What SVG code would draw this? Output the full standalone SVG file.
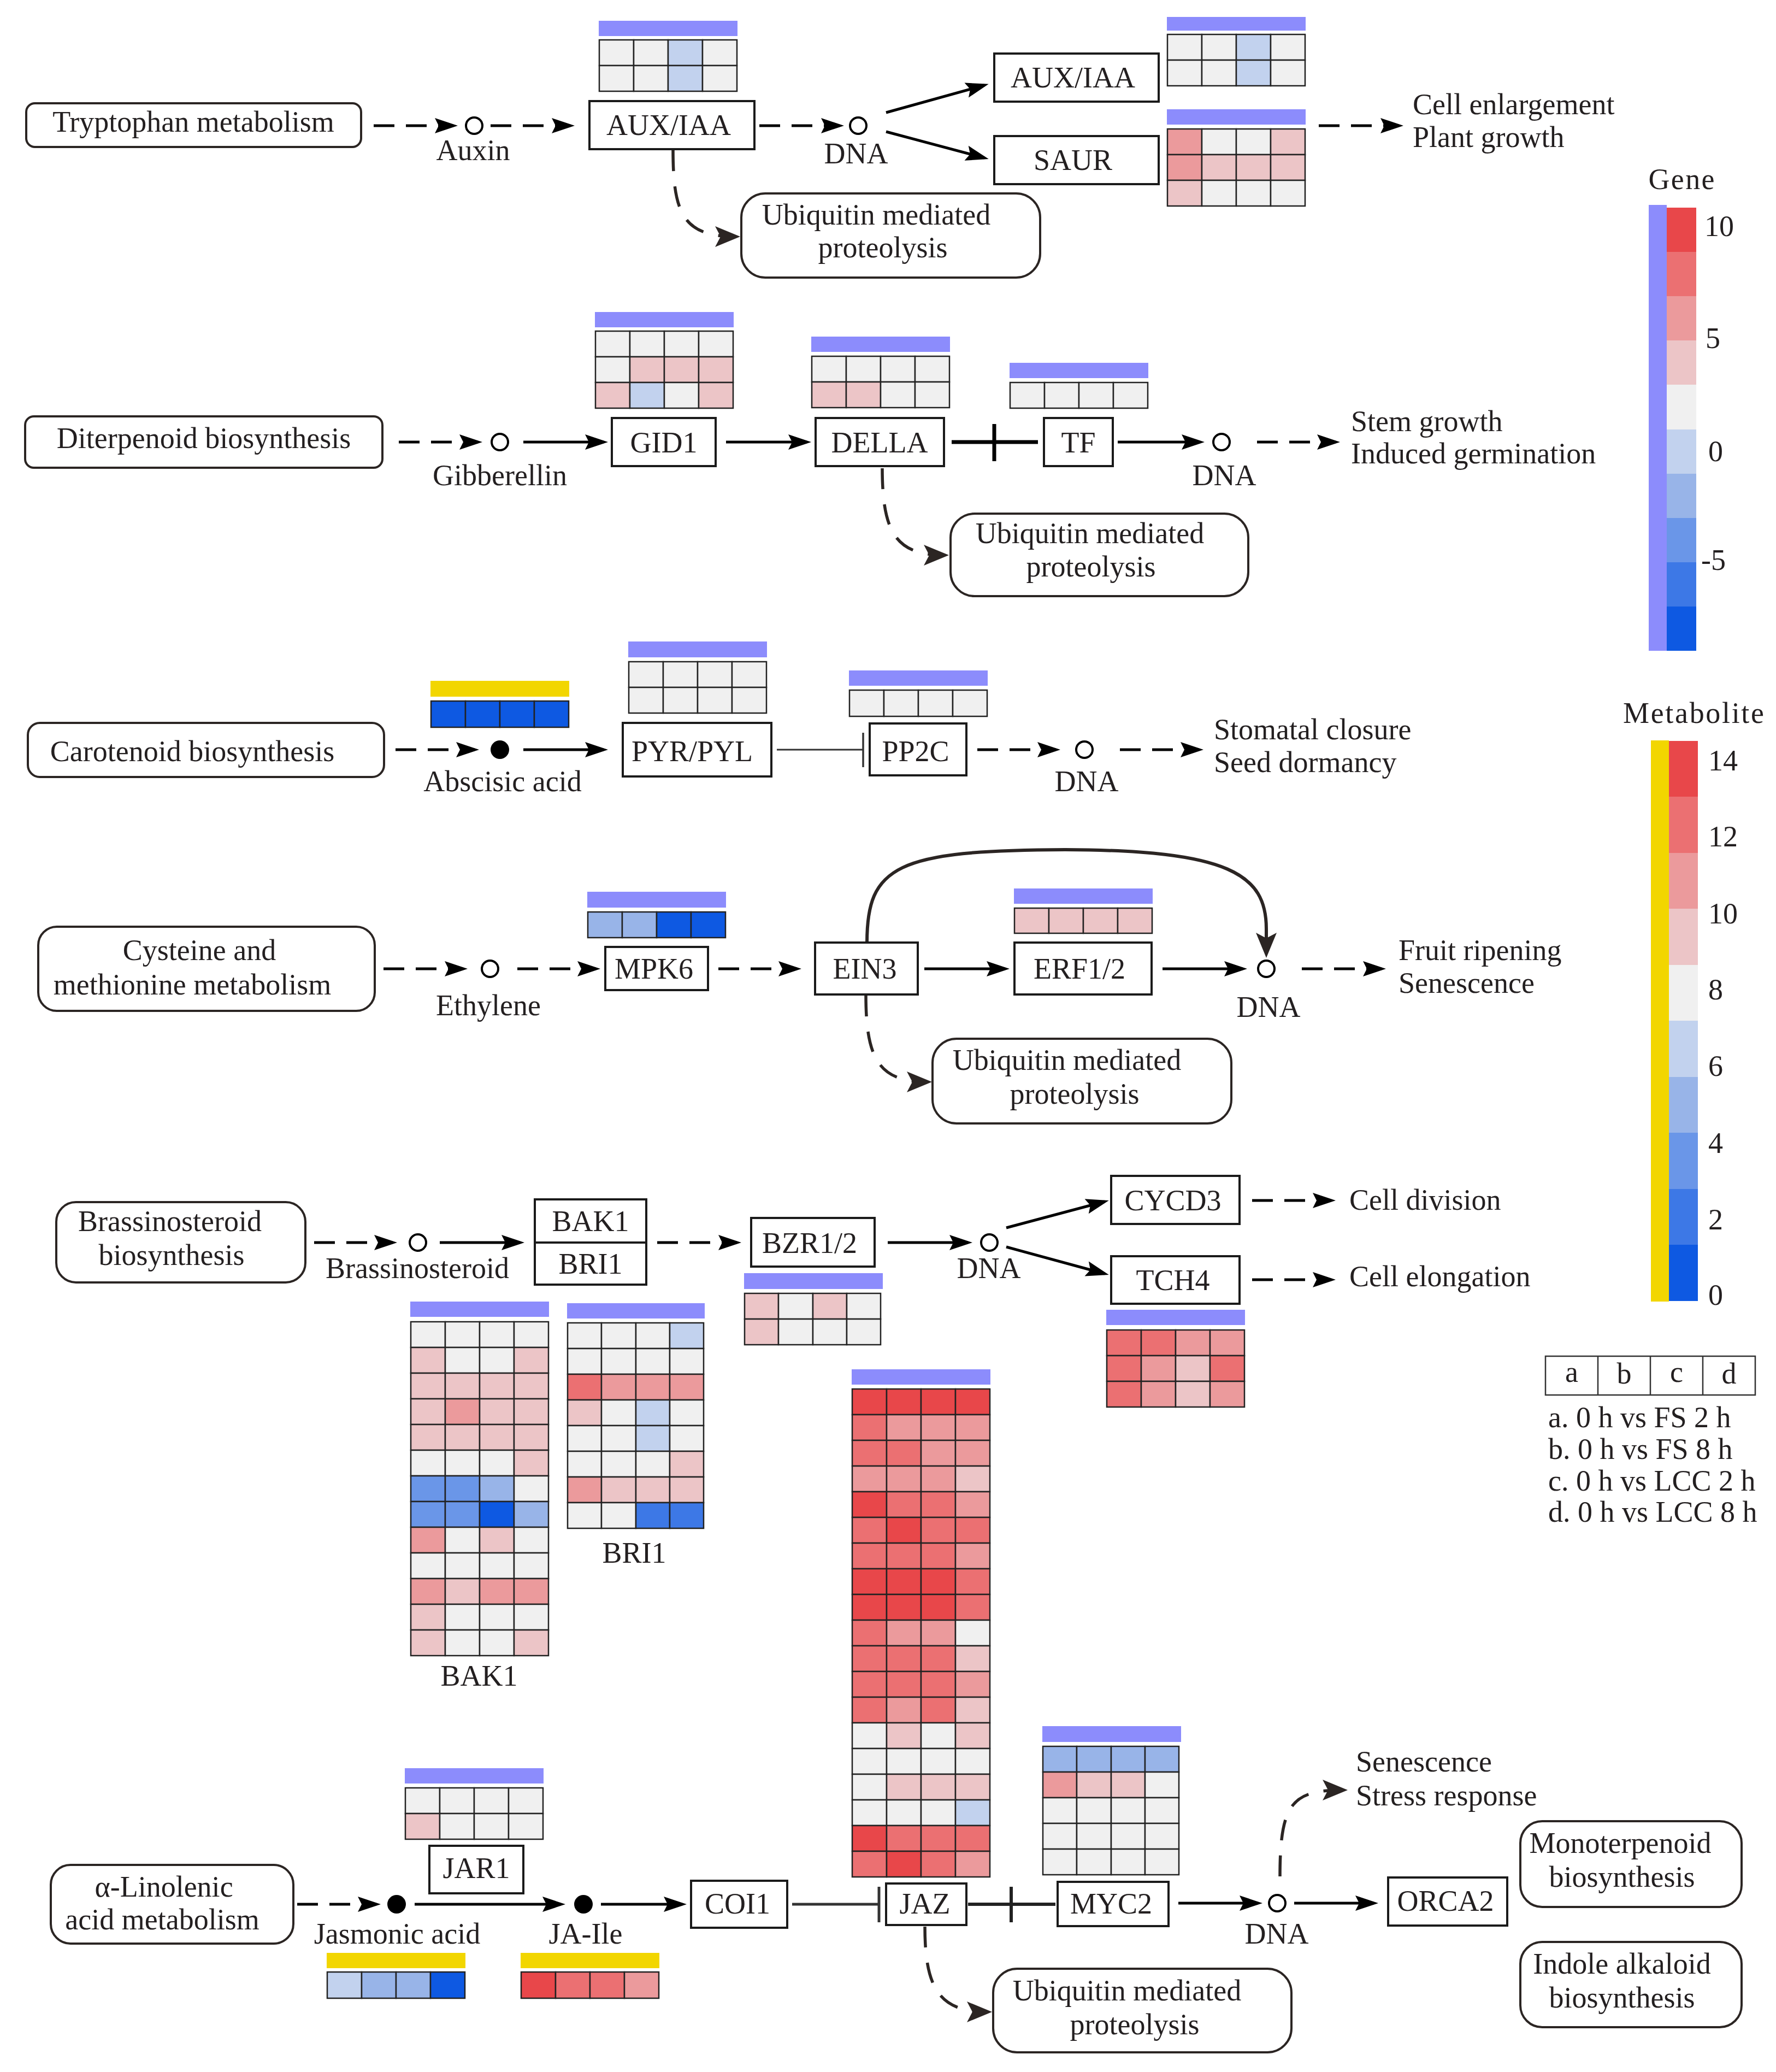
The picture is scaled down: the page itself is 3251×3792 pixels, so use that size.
<svg xmlns="http://www.w3.org/2000/svg" width="3251" height="3792" viewBox="0 0 3251 3792">
<style>
text{font-family:"Liberation Serif","Times New Roman",serif;font-size:54px;fill:#231f20}
.c{text-anchor:middle}
.box{fill:#fff;stroke:#1a1a1a;stroke-width:4}
.rbox{fill:#fff;stroke:#2b2523;stroke-width:4}
.oc{fill:#fff;stroke:#000;stroke-width:4}
.fc{fill:#000}
.hm rect{stroke:#222;stroke-width:2.5}
.hm rect.bar{stroke:none;fill:#8c8cfc}
.hm rect.ybar{stroke:none;fill:#f2d600}
.g{fill:#f0f0f0}.l{fill:#c2d2ee}.b2{fill:#98b4e8}.b3{fill:#6a96e8}.b4{fill:#3d78e6}.b5{fill:#0e59e2}
.p{fill:#ecc5c7}.m{fill:#eb9a9c}.r2{fill:#eb7072}.r1{fill:#e8474a}
#connectors path{fill:none;stroke:#000;stroke-width:5}
#connectors path.d{stroke-dasharray:38 21}
#connectors path.du{stroke:#2b2523;stroke-width:5.5;stroke-dasharray:38 28}
</style>
<defs>
<marker id="a" markerUnits="userSpaceOnUse" markerWidth="44" markerHeight="30" refX="34" refY="14" orient="auto" overflow="visible"><path d="M0,0L42,14L0,28L7,14z" fill="#000"/></marker>
<marker id="u" markerUnits="userSpaceOnUse" markerWidth="48" markerHeight="40" refX="38" refY="19" orient="auto" overflow="visible"><path d="M0,0L46,19L0,38L10,19z" fill="#2b2523"/></marker>
</defs>
<rect width="3251" height="3792" fill="#fff"/>

<g id="connectors">
<path class="d" d="M684 230H830" marker-end="url(#a)"/>
<path class="d" d="M898 230H1044" marker-end="url(#a)"/>
<path class="d" d="M1390 230H1537" marker-end="url(#a)"/>
<path d="M1622 206L1802 156" marker-end="url(#a)"/>
<path d="M1622 241L1802 289" marker-end="url(#a)"/>
<path class="d" d="M2414 230H2561" marker-end="url(#a)"/>
<path class="du" d="M1232 275C1232 390 1250 433 1347 433" marker-end="url(#u)"/>

<path class="d" d="M730 809H875" marker-end="url(#a)"/>
<path d="M958 809H1105" marker-end="url(#a)"/>
<path d="M1329 809H1477" marker-end="url(#a)"/>
<path d="M1742 809H1900" style="stroke-width:7"/>
<path d="M1820 776V844" style="stroke-width:7"/>
<path d="M2046 809H2197" marker-end="url(#a)"/>
<path class="d" d="M2301 809H2445" marker-end="url(#a)"/>
<path class="du" d="M1615 857C1615 975 1640 1016 1729 1016" marker-end="url(#u)"/>

<path class="d" d="M724 1372H869" marker-end="url(#a)"/>
<path d="M958 1372H1105" marker-end="url(#a)"/>
<path d="M1422 1372H1580" style="stroke:#333;stroke-width:3"/>
<path d="M1580 1341V1404" style="stroke:#333;stroke-width:3.5"/>
<path class="d" d="M1789 1372H1933" marker-end="url(#a)"/>
<path class="d" d="M2050 1372H2195" marker-end="url(#a)"/>

<path class="d" d="M702 1773H848" marker-end="url(#a)"/>
<path class="d" d="M947 1773H1091" marker-end="url(#a)"/>
<path class="d" d="M1315 1773H1459" marker-end="url(#a)"/>
<path d="M1692 1773H1840" marker-end="url(#a)"/>
<path d="M2128 1773H2275" marker-end="url(#a)"/>
<path class="d" d="M2383 1773H2529" marker-end="url(#a)"/>
<path d="M1587 1725C1587 1585 1640 1556 1950 1555C2250 1556 2318 1600 2318 1700V1745" style="stroke:#2b2523;stroke-width:6" marker-end="url(#u)"/>
<path class="du" d="M1585 1822C1585 1940 1610 1980 1698 1980" marker-end="url(#u)"/>

<path class="d" d="M575 2274H719" marker-end="url(#a)"/>
<path d="M805 2274H952" marker-end="url(#a)"/>
<path class="d" d="M1203 2274H1349" marker-end="url(#a)"/>
<path d="M1625 2274H1772" marker-end="url(#a)"/>
<path d="M1842 2247L2022 2199" marker-end="url(#a)"/>
<path d="M1842 2282L2022 2331" marker-end="url(#a)"/>
<path class="d" d="M2292 2197H2437" marker-end="url(#a)"/>
<path class="d" d="M2292 2342H2437" marker-end="url(#a)"/>

<path class="d" d="M544 3485H689" marker-end="url(#a)"/>
<path d="M759 3485H1027" marker-end="url(#a)"/>
<path d="M1100 3485H1249" marker-end="url(#a)"/>
<path d="M1450 3485H1609" style="stroke:#333"/>
<path d="M1609 3453V3518" style="stroke:#333"/>
<path d="M1772 3485H1932" style="stroke:#222;stroke-width:6"/>
<path d="M1851 3453V3518" style="stroke:#222;stroke-width:6"/>
<path d="M2157 3483H2303" marker-end="url(#a)"/>
<path d="M2369 3483H2515" marker-end="url(#a)"/>
<path class="du" d="M2343 3434C2343 3300 2365 3276 2459 3276" marker-end="url(#u)"/>
<path class="du" d="M1693 3526C1693 3640 1720 3682 1808 3682" marker-end="url(#u)"/>
</g>

<!-- Row 1 -->
<g id="tryptophan"><rect class="rbox" x="48" y="189" width="613" height="80" rx="16"/><text class="c" x="354" y="241">Tryptophan metabolism</text></g>
<g id="auxin"><circle class="oc" cx="868" cy="230" r="15"/><text class="c" x="866" y="293">Auxin</text></g>
<g id="auxiaa1"><rect class="box" x="1079" y="185" width="302" height="88"/><text class="c" x="1224" y="247">AUX/IAA</text></g>
<g id="dna1"><circle class="oc" cx="1571" cy="230" r="15"/><text class="c" x="1567" y="299">DNA</text></g>
<g id="auxiaa2"><rect class="box" x="1820" y="98" width="301" height="88"/><text class="c" x="1964" y="160">AUX/IAA</text></g>
<g id="saur"><rect class="box" x="1820" y="249" width="301" height="88"/><text class="c" x="1964" y="311">SAUR</text></g>
<g id="ubi1"><rect class="rbox" x="1357" y="354" width="547" height="154" rx="44"/><text class="c" x="1604" y="411">Ubiquitin mediated</text><text class="c" x="1616" y="471">proteolysis</text></g>
<g id="out1"><text x="2586" y="209">Cell enlargement</text><text x="2586" y="269">Plant growth</text></g>

<!-- Row 2 -->
<g id="diterpenoid"><rect class="rbox" x="46" y="762" width="654" height="94" rx="16"/><text class="c" x="373" y="820">Diterpenoid biosynthesis</text></g>
<g id="gibberellin"><circle class="oc" cx="915" cy="809" r="15"/><text class="c" x="915" y="888">Gibberellin</text></g>
<g id="gid1"><rect class="box" x="1120" y="765" width="190" height="88"/><text class="c" x="1215" y="828">GID1</text></g>
<g id="della"><rect class="box" x="1493" y="765" width="235" height="88"/><text class="c" x="1610" y="828">DELLA</text></g>
<g id="tf"><rect class="box" x="1911" y="765" width="126" height="88"/><text class="c" x="1974" y="828">TF</text></g>
<g id="dna2"><circle class="oc" cx="2236" cy="809" r="15"/><text class="c" x="2241" y="888">DNA</text></g>
<g id="out2"><text x="2473" y="789">Stem growth</text><text x="2473" y="848">Induced germination</text></g>
<g id="ubi2"><rect class="rbox" x="1740" y="940" width="545" height="151" rx="44"/><text class="c" x="1995" y="994">Ubiquitin mediated</text><text class="c" x="1997" y="1055">proteolysis</text></g>

<!-- Row 3 -->
<g id="carotenoid"><rect class="rbox" x="51" y="1323" width="652" height="99" rx="22"/><text class="c" x="352" y="1393">Carotenoid biosynthesis</text></g>
<g id="aba"><circle class="fc" cx="915" cy="1372" r="17"/><text class="c" x="920" y="1448">Abscisic acid</text></g>
<g id="pyr"><rect class="box" x="1140" y="1323" width="272" height="98"/><text class="c" x="1267" y="1393">PYR/PYL</text></g>
<g id="pp2c"><rect class="box" x="1592" y="1324" width="177" height="95"/><text class="c" x="1676" y="1393">PP2C</text></g>
<g id="dna3"><circle class="oc" cx="1985" cy="1372" r="15"/><text class="c" x="1989" y="1448">DNA</text></g>
<g id="out3"><text x="2222" y="1353">Stomatal closure</text><text x="2222" y="1413">Seed dormancy</text></g>

<!-- Row 4 -->
<g id="cysteine"><rect class="rbox" x="70" y="1696" width="616" height="154" rx="34"/><text class="c" x="365" y="1757">Cysteine and</text><text class="c" x="352" y="1820">methionine metabolism</text></g>
<g id="ethylene"><circle class="oc" cx="897" cy="1773" r="15"/><text class="c" x="894" y="1858">Ethylene</text></g>
<g id="mpk6"><rect class="box" x="1108" y="1733" width="188" height="79"/><text class="c" x="1197" y="1791">MPK6</text></g>
<g id="ein3"><rect class="box" x="1492" y="1725" width="188" height="95"/><text class="c" x="1583" y="1791">EIN3</text></g>
<g id="erf"><rect class="box" x="1857" y="1725" width="251" height="95"/><text class="c" x="1976" y="1791">ERF1/2</text></g>
<g id="dna4"><circle class="oc" cx="2318" cy="1773" r="15"/><text class="c" x="2322" y="1861">DNA</text></g>
<g id="out4"><text x="2560" y="1757">Fruit ripening</text><text x="2560" y="1817">Senescence</text></g>
<g id="ubi3"><rect class="rbox" x="1707" y="1901" width="547" height="155" rx="44"/><text class="c" x="1953" y="1958">Ubiquitin mediated</text><text class="c" x="1967" y="2020">proteolysis</text></g>

<!-- Row 5 -->
<g id="brassino"><rect class="rbox" x="103" y="2200" width="456" height="147" rx="36"/><text class="c" x="311" y="2253">Brassinosteroid</text><text class="c" x="314" y="2315">biosynthesis</text></g>
<g id="br"><circle class="oc" cx="765" cy="2274" r="15"/><text class="c" x="764" y="2339">Brassinosteroid</text></g>
<g id="bak1bri1"><rect class="box" x="979" y="2195" width="204" height="156"/><path d="M979 2274H1183" stroke="#1a1a1a" stroke-width="4"/><text class="c" x="1081" y="2253">BAK1</text><text class="c" x="1081" y="2331">BRI1</text></g>
<g id="bzr"><rect class="box" x="1375" y="2229" width="226" height="89"/><text class="c" x="1482" y="2293">BZR1/2</text></g>
<g id="dna5"><circle class="oc" cx="1811" cy="2274" r="15"/><text class="c" x="1810" y="2339">DNA</text></g>
<g id="cycd3"><rect class="box" x="2034" y="2152" width="235" height="88"/><text class="c" x="2147" y="2215">CYCD3</text></g>
<g id="tch4"><rect class="box" x="2034" y="2299" width="235" height="87"/><text class="c" x="2147" y="2361">TCH4</text></g>
<g id="out5"><text x="2470" y="2214">Cell division</text><text x="2470" y="2354">Cell elongation</text></g>
<g id="bak1lbl"><text class="c" x="877" y="3085">BAK1</text></g>
<g id="bri1lbl"><text class="c" x="1161" y="2860">BRI1</text></g>

<!-- Row 6 -->
<g id="linolenic"><rect class="rbox" x="93" y="3413" width="444" height="144" rx="36"/><text class="c" x="300" y="3471">α-Linolenic</text><text class="c" x="297" y="3531">acid metabolism</text></g>
<g id="ja"><circle class="fc" cx="726" cy="3485" r="17"/><text class="c" x="727" y="3557">Jasmonic acid</text></g>
<g id="jar1"><rect class="box" x="786" y="3378" width="172" height="87"/><text class="c" x="872" y="3437">JAR1</text></g>
<g id="jaile"><circle class="fc" cx="1068" cy="3485" r="17"/><text class="c" x="1072" y="3557">JA-Ile</text></g>
<g id="coi1"><rect class="box" x="1265" y="3442" width="176" height="86"/><text class="c" x="1350" y="3502">COI1</text></g>
<g id="jaz"><rect class="box" x="1622" y="3447" width="147" height="76"/><text class="c" x="1693" y="3502">JAZ</text></g>
<g id="myc2"><rect class="box" x="1936" y="3444" width="203" height="81"/><text class="c" x="2034" y="3502">MYC2</text></g>
<g id="dna6"><circle class="oc" cx="2338" cy="3483" r="15"/><text class="c" x="2337" y="3557">DNA</text></g>
<g id="orca2"><rect class="box" x="2541" y="3436" width="218" height="88"/><text class="c" x="2646" y="3497">ORCA2</text></g>
<g id="out6"><text x="2482" y="3242">Senescence</text><text x="2482" y="3304">Stress response</text></g>
<g id="mono"><rect class="rbox" x="2783" y="3333" width="405" height="157" rx="40"/><text class="c" x="2966" y="3391">Monoterpenoid</text><text class="c" x="2969" y="3453">biosynthesis</text></g>
<g id="indole"><rect class="rbox" x="2783" y="3554" width="405" height="156" rx="40"/><text class="c" x="2969" y="3612">Indole alkaloid</text><text class="c" x="2969" y="3674">biosynthesis</text></g>
<g id="ubi4"><rect class="rbox" x="1818" y="3603" width="546" height="153" rx="44"/><text class="c" x="2063" y="3661">Ubiquitin mediated</text><text class="c" x="2077" y="3723">proteolysis</text></g>

<!-- Heatmaps -->
<g id="hm-auxiaa1" class="hm" transform="translate(1097,73)"><rect class="bar" x="-1" y="-35" width="254" height="28"/>
<rect x="0" y="0" width="63" height="47" class="g"/><rect x="63" y="0" width="63" height="47" class="g"/><rect x="126" y="0" width="63" height="47" class="l"/><rect x="189" y="0" width="63" height="47" class="g"/>
<rect x="0" y="47" width="63" height="47" class="g"/><rect x="63" y="47" width="63" height="47" class="g"/><rect x="126" y="47" width="63" height="47" class="l"/><rect x="189" y="47" width="63" height="47" class="g"/>
</g>
<g id="hm-auxiaa2" class="hm" transform="translate(2137,63)"><rect class="bar" x="-1" y="-32" width="254" height="25"/>
<rect x="0" y="0" width="63" height="47" class="g"/><rect x="63" y="0" width="63" height="47" class="g"/><rect x="126" y="0" width="63" height="47" class="l"/><rect x="189" y="0" width="63" height="47" class="g"/>
<rect x="0" y="47" width="63" height="47" class="g"/><rect x="63" y="47" width="63" height="47" class="g"/><rect x="126" y="47" width="63" height="47" class="l"/><rect x="189" y="47" width="63" height="47" class="g"/>
</g>
<g id="hm-saur" class="hm" transform="translate(2137,236)"><rect class="bar" x="-1" y="-36" width="254" height="28"/>
<rect x="0" y="0" width="63" height="47" class="m"/><rect x="63" y="0" width="63" height="47" class="g"/><rect x="126" y="0" width="63" height="47" class="g"/><rect x="189" y="0" width="63" height="47" class="p"/>
<rect x="0" y="47" width="63" height="47" class="m"/><rect x="63" y="47" width="63" height="47" class="p"/><rect x="126" y="47" width="63" height="47" class="p"/><rect x="189" y="47" width="63" height="47" class="p"/>
<rect x="0" y="94" width="63" height="47" class="p"/><rect x="63" y="94" width="63" height="47" class="g"/><rect x="126" y="94" width="63" height="47" class="g"/><rect x="189" y="94" width="63" height="47" class="g"/>
</g>
<g id="hm-gid1" class="hm" transform="translate(1090,606)"><rect class="bar" x="-1" y="-35" width="254" height="28"/>
<rect x="0" y="0" width="63" height="47" class="g"/><rect x="63" y="0" width="63" height="47" class="g"/><rect x="126" y="0" width="63" height="47" class="g"/><rect x="189" y="0" width="63" height="47" class="g"/>
<rect x="0" y="47" width="63" height="47" class="g"/><rect x="63" y="47" width="63" height="47" class="p"/><rect x="126" y="47" width="63" height="47" class="p"/><rect x="189" y="47" width="63" height="47" class="p"/>
<rect x="0" y="94" width="63" height="47" class="p"/><rect x="63" y="94" width="63" height="47" class="l"/><rect x="126" y="94" width="63" height="47" class="g"/><rect x="189" y="94" width="63" height="47" class="p"/>
</g>
<g id="hm-della" class="hm" transform="translate(1486,652)"><rect class="bar" x="-1" y="-36" width="254" height="28"/>
<rect x="0" y="0" width="63" height="47" class="g"/><rect x="63" y="0" width="63" height="47" class="g"/><rect x="126" y="0" width="63" height="47" class="g"/><rect x="189" y="0" width="63" height="47" class="g"/>
<rect x="0" y="47" width="63" height="47" class="p"/><rect x="63" y="47" width="63" height="47" class="p"/><rect x="126" y="47" width="63" height="47" class="g"/><rect x="189" y="47" width="63" height="47" class="g"/>
</g>
<g id="hm-tf" class="hm" transform="translate(1849,700)"><rect class="bar" x="-1" y="-36" width="254" height="28"/>
<rect x="0" y="0" width="63" height="47" class="g"/><rect x="63" y="0" width="63" height="47" class="g"/><rect x="126" y="0" width="63" height="47" class="g"/><rect x="189" y="0" width="63" height="47" class="g"/>
</g>
<g id="hm-aba" class="hm" transform="translate(789,1283)"><rect class="ybar" x="-1" y="-37" width="254" height="29"/>
<rect x="0" y="0" width="63" height="48" class="b5"/><rect x="63" y="0" width="63" height="48" class="b5"/><rect x="126" y="0" width="63" height="48" class="b5"/><rect x="189" y="0" width="63" height="48" class="b5"/>
</g>
<g id="hm-pyr" class="hm" transform="translate(1151,1211)"><rect class="bar" x="-1" y="-37" width="254" height="29"/>
<rect x="0" y="0" width="63" height="47" class="g"/><rect x="63" y="0" width="63" height="47" class="g"/><rect x="126" y="0" width="63" height="47" class="g"/><rect x="189" y="0" width="63" height="47" class="g"/>
<rect x="0" y="47" width="63" height="47" class="g"/><rect x="63" y="47" width="63" height="47" class="g"/><rect x="126" y="47" width="63" height="47" class="g"/><rect x="189" y="47" width="63" height="47" class="g"/>
</g>
<g id="hm-pp2c" class="hm" transform="translate(1555,1263)"><rect class="bar" x="-1" y="-36" width="254" height="28"/>
<rect x="0" y="0" width="63" height="48" class="g"/><rect x="63" y="0" width="63" height="48" class="g"/><rect x="126" y="0" width="63" height="48" class="g"/><rect x="189" y="0" width="63" height="48" class="g"/>
</g>
<g id="hm-mpk6" class="hm" transform="translate(1076,1669)"><rect class="bar" x="-1" y="-37" width="254" height="29"/>
<rect x="0" y="0" width="63" height="47" class="b2"/><rect x="63" y="0" width="63" height="47" class="b2"/><rect x="126" y="0" width="63" height="47" class="b5"/><rect x="189" y="0" width="63" height="47" class="b5"/>
</g>
<g id="hm-erf" class="hm" transform="translate(1857,1662)"><rect class="bar" x="-1" y="-36" width="254" height="28"/>
<rect x="0" y="0" width="63" height="46" class="p"/><rect x="63" y="0" width="63" height="46" class="p"/><rect x="126" y="0" width="63" height="46" class="p"/><rect x="189" y="0" width="63" height="46" class="p"/>
</g>
<g id="hm-bak1" class="hm" transform="translate(752,2419)"><rect class="bar" x="-1" y="-37" width="254" height="28"/>
<rect x="0" y="0" width="63" height="47" class="g"/><rect x="63" y="0" width="63" height="47" class="g"/><rect x="126" y="0" width="63" height="47" class="g"/><rect x="189" y="0" width="63" height="47" class="g"/>
<rect x="0" y="47" width="63" height="47" class="p"/><rect x="63" y="47" width="63" height="47" class="g"/><rect x="126" y="47" width="63" height="47" class="g"/><rect x="189" y="47" width="63" height="47" class="p"/>
<rect x="0" y="94" width="63" height="47" class="p"/><rect x="63" y="94" width="63" height="47" class="p"/><rect x="126" y="94" width="63" height="47" class="p"/><rect x="189" y="94" width="63" height="47" class="p"/>
<rect x="0" y="141" width="63" height="47" class="p"/><rect x="63" y="141" width="63" height="47" class="m"/><rect x="126" y="141" width="63" height="47" class="p"/><rect x="189" y="141" width="63" height="47" class="p"/>
<rect x="0" y="188" width="63" height="47" class="p"/><rect x="63" y="188" width="63" height="47" class="p"/><rect x="126" y="188" width="63" height="47" class="p"/><rect x="189" y="188" width="63" height="47" class="p"/>
<rect x="0" y="235" width="63" height="47" class="g"/><rect x="63" y="235" width="63" height="47" class="g"/><rect x="126" y="235" width="63" height="47" class="g"/><rect x="189" y="235" width="63" height="47" class="p"/>
<rect x="0" y="282" width="63" height="47" class="b3"/><rect x="63" y="282" width="63" height="47" class="b3"/><rect x="126" y="282" width="63" height="47" class="b2"/><rect x="189" y="282" width="63" height="47" class="g"/>
<rect x="0" y="329" width="63" height="47" class="b3"/><rect x="63" y="329" width="63" height="47" class="b3"/><rect x="126" y="329" width="63" height="47" class="b5"/><rect x="189" y="329" width="63" height="47" class="b2"/>
<rect x="0" y="376" width="63" height="47" class="m"/><rect x="63" y="376" width="63" height="47" class="g"/><rect x="126" y="376" width="63" height="47" class="p"/><rect x="189" y="376" width="63" height="47" class="g"/>
<rect x="0" y="423" width="63" height="47" class="g"/><rect x="63" y="423" width="63" height="47" class="g"/><rect x="126" y="423" width="63" height="47" class="g"/><rect x="189" y="423" width="63" height="47" class="g"/>
<rect x="0" y="470" width="63" height="47" class="m"/><rect x="63" y="470" width="63" height="47" class="p"/><rect x="126" y="470" width="63" height="47" class="m"/><rect x="189" y="470" width="63" height="47" class="m"/>
<rect x="0" y="517" width="63" height="47" class="p"/><rect x="63" y="517" width="63" height="47" class="g"/><rect x="126" y="517" width="63" height="47" class="g"/><rect x="189" y="517" width="63" height="47" class="g"/>
<rect x="0" y="564" width="63" height="47" class="p"/><rect x="63" y="564" width="63" height="47" class="g"/><rect x="126" y="564" width="63" height="47" class="g"/><rect x="189" y="564" width="63" height="47" class="p"/>
</g>
<g id="hm-bri1" class="hm" transform="translate(1039,2421)"><rect class="bar" x="-1" y="-36" width="252" height="28"/>
<rect x="0" y="0" width="62" height="47" class="g"/><rect x="62" y="0" width="63" height="47" class="g"/><rect x="125" y="0" width="62" height="47" class="g"/><rect x="187" y="0" width="62" height="47" class="l"/>
<rect x="0" y="47" width="62" height="47" class="g"/><rect x="62" y="47" width="63" height="47" class="g"/><rect x="125" y="47" width="62" height="47" class="g"/><rect x="187" y="47" width="62" height="47" class="g"/>
<rect x="0" y="94" width="62" height="47" class="r2"/><rect x="62" y="94" width="63" height="47" class="m"/><rect x="125" y="94" width="62" height="47" class="m"/><rect x="187" y="94" width="62" height="47" class="m"/>
<rect x="0" y="141" width="62" height="47" class="p"/><rect x="62" y="141" width="63" height="47" class="g"/><rect x="125" y="141" width="62" height="47" class="l"/><rect x="187" y="141" width="62" height="47" class="g"/>
<rect x="0" y="188" width="62" height="47" class="g"/><rect x="62" y="188" width="63" height="47" class="g"/><rect x="125" y="188" width="62" height="47" class="l"/><rect x="187" y="188" width="62" height="47" class="g"/>
<rect x="0" y="235" width="62" height="47" class="g"/><rect x="62" y="235" width="63" height="47" class="g"/><rect x="125" y="235" width="62" height="47" class="g"/><rect x="187" y="235" width="62" height="47" class="p"/>
<rect x="0" y="282" width="62" height="47" class="m"/><rect x="62" y="282" width="63" height="47" class="p"/><rect x="125" y="282" width="62" height="47" class="p"/><rect x="187" y="282" width="62" height="47" class="p"/>
<rect x="0" y="329" width="62" height="47" class="g"/><rect x="62" y="329" width="63" height="47" class="g"/><rect x="125" y="329" width="62" height="47" class="b4"/><rect x="187" y="329" width="62" height="47" class="b4"/>
</g>
<g id="hm-bzr" class="hm" transform="translate(1363,2367)"><rect class="bar" x="-1" y="-37" width="254" height="29"/>
<rect x="0" y="0" width="62" height="47" class="p"/><rect x="62" y="0" width="63" height="47" class="g"/><rect x="125" y="0" width="62" height="47" class="p"/><rect x="187" y="0" width="62" height="47" class="g"/>
<rect x="0" y="47" width="62" height="47" class="p"/><rect x="62" y="47" width="63" height="47" class="g"/><rect x="125" y="47" width="62" height="47" class="g"/><rect x="187" y="47" width="62" height="47" class="g"/>
</g>
<g id="hm-tch4" class="hm" transform="translate(2026,2434)"><rect class="bar" x="-1" y="-37" width="254" height="28"/>
<rect x="0" y="0" width="63" height="47" class="r2"/><rect x="63" y="0" width="63" height="47" class="r2"/><rect x="126" y="0" width="63" height="47" class="m"/><rect x="189" y="0" width="63" height="47" class="m"/>
<rect x="0" y="47" width="63" height="47" class="r2"/><rect x="63" y="47" width="63" height="47" class="m"/><rect x="126" y="47" width="63" height="47" class="p"/><rect x="189" y="47" width="63" height="47" class="r2"/>
<rect x="0" y="94" width="63" height="47" class="r2"/><rect x="63" y="94" width="63" height="47" class="m"/><rect x="126" y="94" width="63" height="47" class="p"/><rect x="189" y="94" width="63" height="47" class="m"/>
</g>
<g id="hm-jaz" class="hm" transform="translate(1560,2542)"><rect class="bar" x="-1" y="-36" width="254" height="28"/>
<rect x="0" y="0" width="63" height="47" class="r1"/><rect x="63" y="0" width="63" height="47" class="r1"/><rect x="126" y="0" width="63" height="47" class="r1"/><rect x="189" y="0" width="63" height="47" class="r1"/>
<rect x="0" y="47" width="63" height="47" class="r2"/><rect x="63" y="47" width="63" height="47" class="m"/><rect x="126" y="47" width="63" height="47" class="m"/><rect x="189" y="47" width="63" height="47" class="m"/>
<rect x="0" y="94" width="63" height="47" class="r2"/><rect x="63" y="94" width="63" height="47" class="r2"/><rect x="126" y="94" width="63" height="47" class="m"/><rect x="189" y="94" width="63" height="47" class="m"/>
<rect x="0" y="141" width="63" height="47" class="m"/><rect x="63" y="141" width="63" height="47" class="m"/><rect x="126" y="141" width="63" height="47" class="m"/><rect x="189" y="141" width="63" height="47" class="p"/>
<rect x="0" y="188" width="63" height="47" class="r1"/><rect x="63" y="188" width="63" height="47" class="r2"/><rect x="126" y="188" width="63" height="47" class="r2"/><rect x="189" y="188" width="63" height="47" class="m"/>
<rect x="0" y="235" width="63" height="47" class="r2"/><rect x="63" y="235" width="63" height="47" class="r1"/><rect x="126" y="235" width="63" height="47" class="r2"/><rect x="189" y="235" width="63" height="47" class="r2"/>
<rect x="0" y="282" width="63" height="47" class="r2"/><rect x="63" y="282" width="63" height="47" class="r2"/><rect x="126" y="282" width="63" height="47" class="r2"/><rect x="189" y="282" width="63" height="47" class="m"/>
<rect x="0" y="329" width="63" height="47" class="r1"/><rect x="63" y="329" width="63" height="47" class="r1"/><rect x="126" y="329" width="63" height="47" class="r1"/><rect x="189" y="329" width="63" height="47" class="r2"/>
<rect x="0" y="376" width="63" height="47" class="r1"/><rect x="63" y="376" width="63" height="47" class="r1"/><rect x="126" y="376" width="63" height="47" class="r1"/><rect x="189" y="376" width="63" height="47" class="r2"/>
<rect x="0" y="423" width="63" height="47" class="r2"/><rect x="63" y="423" width="63" height="47" class="m"/><rect x="126" y="423" width="63" height="47" class="m"/><rect x="189" y="423" width="63" height="47" class="g"/>
<rect x="0" y="470" width="63" height="47" class="r2"/><rect x="63" y="470" width="63" height="47" class="r2"/><rect x="126" y="470" width="63" height="47" class="r2"/><rect x="189" y="470" width="63" height="47" class="p"/>
<rect x="0" y="517" width="63" height="47" class="r2"/><rect x="63" y="517" width="63" height="47" class="r2"/><rect x="126" y="517" width="63" height="47" class="r2"/><rect x="189" y="517" width="63" height="47" class="m"/>
<rect x="0" y="564" width="63" height="47" class="r2"/><rect x="63" y="564" width="63" height="47" class="m"/><rect x="126" y="564" width="63" height="47" class="r2"/><rect x="189" y="564" width="63" height="47" class="p"/>
<rect x="0" y="611" width="63" height="47" class="g"/><rect x="63" y="611" width="63" height="47" class="p"/><rect x="126" y="611" width="63" height="47" class="g"/><rect x="189" y="611" width="63" height="47" class="p"/>
<rect x="0" y="658" width="63" height="47" class="g"/><rect x="63" y="658" width="63" height="47" class="g"/><rect x="126" y="658" width="63" height="47" class="g"/><rect x="189" y="658" width="63" height="47" class="g"/>
<rect x="0" y="705" width="63" height="47" class="g"/><rect x="63" y="705" width="63" height="47" class="p"/><rect x="126" y="705" width="63" height="47" class="p"/><rect x="189" y="705" width="63" height="47" class="p"/>
<rect x="0" y="752" width="63" height="47" class="g"/><rect x="63" y="752" width="63" height="47" class="g"/><rect x="126" y="752" width="63" height="47" class="g"/><rect x="189" y="752" width="63" height="47" class="l"/>
<rect x="0" y="799" width="63" height="47" class="r1"/><rect x="63" y="799" width="63" height="47" class="r2"/><rect x="126" y="799" width="63" height="47" class="r2"/><rect x="189" y="799" width="63" height="47" class="r2"/>
<rect x="0" y="846" width="63" height="47" class="r2"/><rect x="63" y="846" width="63" height="47" class="r1"/><rect x="126" y="846" width="63" height="47" class="r2"/><rect x="189" y="846" width="63" height="47" class="m"/>
</g>
<g id="hm-myc2" class="hm" transform="translate(1909,3196)"><rect class="bar" x="-1" y="-37" width="254" height="29"/>
<rect x="0" y="0" width="62" height="47" class="b2"/><rect x="62" y="0" width="63" height="47" class="b2"/><rect x="125" y="0" width="62" height="47" class="b2"/><rect x="187" y="0" width="62" height="47" class="b2"/>
<rect x="0" y="47" width="62" height="47" class="m"/><rect x="62" y="47" width="63" height="47" class="p"/><rect x="125" y="47" width="62" height="47" class="p"/><rect x="187" y="47" width="62" height="47" class="g"/>
<rect x="0" y="94" width="62" height="47" class="g"/><rect x="62" y="94" width="63" height="47" class="g"/><rect x="125" y="94" width="62" height="47" class="g"/><rect x="187" y="94" width="62" height="47" class="g"/>
<rect x="0" y="141" width="62" height="47" class="g"/><rect x="62" y="141" width="63" height="47" class="g"/><rect x="125" y="141" width="62" height="47" class="g"/><rect x="187" y="141" width="62" height="47" class="g"/>
<rect x="0" y="188" width="62" height="47" class="g"/><rect x="62" y="188" width="63" height="47" class="g"/><rect x="125" y="188" width="62" height="47" class="g"/><rect x="187" y="188" width="62" height="47" class="g"/>
</g>
<g id="hm-jar1" class="hm" transform="translate(742,3272)"><rect class="bar" x="-1" y="-36" width="254" height="28"/>
<rect x="0" y="0" width="63" height="47" class="g"/><rect x="63" y="0" width="63" height="47" class="g"/><rect x="126" y="0" width="63" height="47" class="g"/><rect x="189" y="0" width="63" height="47" class="g"/>
<rect x="0" y="47" width="63" height="47" class="p"/><rect x="63" y="47" width="63" height="47" class="g"/><rect x="126" y="47" width="63" height="47" class="g"/><rect x="189" y="47" width="63" height="47" class="g"/>
</g>
<g id="hm-ja" class="hm" transform="translate(599,3609)"><rect class="ybar" x="-1" y="-35" width="254" height="28"/>
<rect x="0" y="0" width="63" height="48" class="l"/><rect x="63" y="0" width="63" height="48" class="b2"/><rect x="126" y="0" width="63" height="48" class="b2"/><rect x="189" y="0" width="63" height="48" class="b5"/>
</g>
<g id="hm-jaile" class="hm" transform="translate(954,3609)"><rect class="ybar" x="-1" y="-35" width="254" height="28"/>
<rect x="0" y="0" width="63" height="48" class="r1"/><rect x="63" y="0" width="63" height="48" class="r2"/><rect x="126" y="0" width="63" height="48" class="r2"/><rect x="189" y="0" width="63" height="48" class="m"/>
</g>

<!-- Legends -->
<g id="gene-legend">
<text class="c" x="3078" y="346" textLength="121">Gene</text>
<rect x="3018" y="375" width="33" height="816" fill="#8c8cfc"/>
<rect x="3051" y="380" width="54" height="82" class="r1"/>
<rect x="3051" y="461" width="54" height="82" class="r2"/>
<rect x="3051" y="542" width="54" height="82" class="m"/>
<rect x="3051" y="623" width="54" height="82" class="p"/>
<rect x="3051" y="704" width="54" height="82" class="g"/>
<rect x="3051" y="786" width="54" height="82" class="l"/>
<rect x="3051" y="867" width="54" height="82" class="b2"/>
<rect x="3051" y="948" width="54" height="82" class="b3"/>
<rect x="3051" y="1029" width="54" height="82" class="b4"/>
<rect x="3051" y="1110" width="54" height="81" class="b5"/>
<text x="3120" y="432">10</text><text x="3122" y="637">5</text><text x="3127" y="844">0</text><text x="3114" y="1043">-5</text>
</g>
<g id="metabolite-legend">
<text class="c" x="3100" y="1323" textLength="258">Metabolite</text>
<rect x="3022" y="1355" width="33" height="1027" fill="#f2d600"/>
<rect x="3055" y="1356" width="53" height="103" class="r1"/>
<rect x="3055" y="1458" width="53" height="103" class="r2"/>
<rect x="3055" y="1561" width="53" height="103" class="m"/>
<rect x="3055" y="1663" width="53" height="103" class="p"/>
<rect x="3055" y="1766" width="53" height="103" class="g"/>
<rect x="3055" y="1868" width="53" height="103" class="l"/>
<rect x="3055" y="1971" width="53" height="103" class="b2"/>
<rect x="3055" y="2073" width="53" height="103" class="b3"/>
<rect x="3055" y="2176" width="53" height="103" class="b4"/>
<rect x="3055" y="2278" width="53" height="103" class="b5"/>
<text x="3127" y="1410">14</text><text x="3127" y="1549">12</text><text x="3127" y="1690">10</text><text x="3127" y="1829">8</text>
<text x="3127" y="1969">6</text><text x="3127" y="2110">4</text><text x="3127" y="2250">2</text><text x="3127" y="2388">0</text>
</g>
<g id="sample-legend">
<rect x="2829" y="2482" width="384" height="71" fill="#fff" stroke="#333" stroke-width="2.5"/>
<path d="M2925 2482V2553M3021 2482V2553M3117 2482V2553" stroke="#333" stroke-width="2.5"/>
<text class="c" x="2877" y="2529">a</text><text class="c" x="2973" y="2532">b</text><text class="c" x="3069" y="2529">c</text><text class="c" x="3165" y="2532">d</text>
<text x="2834" y="2612">a. 0 h vs FS 2 h</text>
<text x="2834" y="2670">b. 0 h vs FS 8 h</text>
<text x="2834" y="2728">c. 0 h vs LCC 2 h</text>
<text x="2834" y="2785">d. 0 h vs LCC 8 h</text>
</g>
</svg>
